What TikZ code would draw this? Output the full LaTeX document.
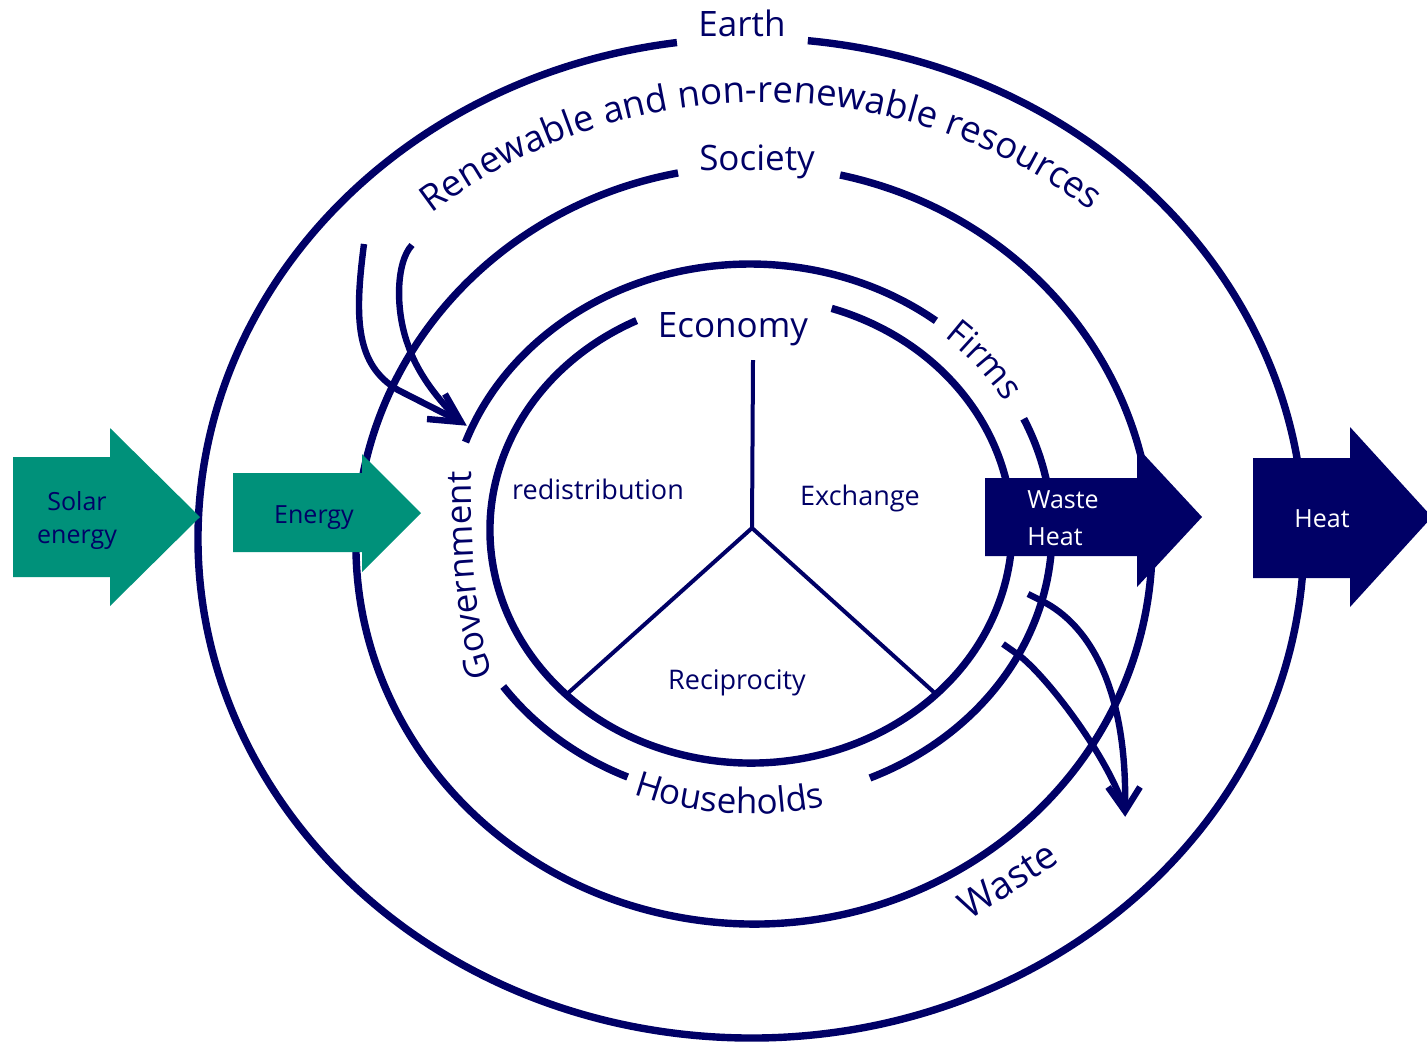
\documentclass[tikz,border=0pt]{standalone}
\usepackage{fontspec}
\setmainfont{Open Sans}
\usetikzlibrary{decorations.text}
\definecolor{navy}{RGB}{0,0,102}
\definecolor{solar}{RGB}{0,145,122}
\begin{document}
\begin{tikzpicture}[x=0.5pt,y=-0.5pt,
  ring/.style={draw=navy, line width=3.7pt},
  spoke/.style={draw=navy, line width=2pt},
  flow/.style={draw=navy, line width=3.2pt},
  bigtxt/.style={text=navy, font=\fontsize{17.5}{21}\selectfont, inner sep=0pt},
  smalltxt/.style={text=navy, font=\fontsize{13.5}{16}\selectfont, inner sep=0pt},
  arrtxt/.style={font=\fontsize{12.5}{15}\selectfont, inner sep=0pt},
  curvetxt/.style={decorate, decoration={text along path, text align=center, text={|\fontsize{17.5}{21}\selectfont\color{navy}|#1}}},
  arctxt/.style={decorate, decoration={text along path, text align=center, text={|\fontsize{18.3}{22}\selectfont\color{navy}|#1}}}
]
\useasboundingbox (0,0) rectangle (1427,1045);

% Earth
\draw[ring] ([shift={(751,538)}]-84.1:553 and 500) arc[start angle=-84.1, end angle=262.3, x radius=553, y radius=500];
% Society
\draw[ring] ([shift={(754,545)}]-77.5:398 and 379) arc[start angle=-77.5, end angle=259, x radius=398, y radius=379];
% Economy outer ring (three segments)
\draw[ring] ([shift={(750,532)}]-160.4:302 and 268) arc[start angle=-160.4, end angle=-52, x radius=302, y radius=268];
\draw[ring] ([shift={(750,532)}]-25:302 and 268) arc[start angle=-25, end angle=66.6, x radius=302, y radius=268];
\draw[ring] ([shift={(750,532)}]113.9:302 and 268) arc[start angle=113.9, end angle=144.8, x radius=302, y radius=268];
% Economy inner
\draw[ring] ([shift={(751,530)}]-72:261 and 233) arc[start angle=-72, end angle=244, x radius=261, y radius=233];

% spokes
\coordinate (hub) at (752,528);
\coordinate (spU) at (753,360);
\coordinate (spL) at (567,694);
\coordinate (spR) at (937,695);
\draw[spoke] (spU) -- (hub) -- (spL);
\draw[spoke] (hub) -- (spR);

% resource flows (top left)
\coordinate (tA) at (364,244);
\coordinate (tB) at (412,245);
\coordinate (tipTL) at (461,422);
\coordinate (hbA) at (427,419);
\coordinate (hbB) at (445,394);
\draw[flow] (tA) .. controls (354,320) and (356,365) .. (398,390) -- (tipTL);
\draw[flow] (tB) .. controls (396,262) and (395,310) .. (408,345) .. controls (418,375) and (440,402) .. (tipTL);
\draw[flow, line join=miter] (hbA) -- (tipTL) -- (hbB);

% waste flows (bottom right)
\coordinate (wA) at (1028,594);
\coordinate (wB) at (1003,644);
\coordinate (tipBR) at (1125,811);
\coordinate (wbA) at (1108,787);
\coordinate (wbB) at (1140,787);
\draw[flow] (wA) -- (1042,601) .. controls (1090,625) and (1128,690) .. (tipBR);
\draw[flow] (wB) -- (1020,656) .. controls (1050,680) and (1110,760) .. (tipBR);
\draw[flow, line join=miter] (wbA) -- (tipBR) -- (wbB);

% block arrows
\fill[solar] (13,457) -- (110,457) -- (110,428) -- (200,517) -- (110,606) -- (110,577) -- (13,577) -- cycle;
\fill[solar] (233,473) -- (362,473) -- (362,454) -- (421,513) -- (362,572) -- (362,552) -- (233,552) -- cycle;
\fill[navy] (985,478) -- (1137,478) -- (1137,447) -- (1202,517) -- (1137,587) -- (1137,556) -- (985,556) -- cycle;
\fill[navy] (1253,458) -- (1350,458) -- (1350,427) -- (1432,517) -- (1350,607) -- (1350,578) -- (1253,578) -- cycle;

% labels
\node[bigtxt, anchor=base] (earth) at (742,36) {Earth};
\node[bigtxt, anchor=base] (society) at (757,170) {Society};
\node[bigtxt, anchor=base] (economy) at (733,337) {Economy};
\node[smalltxt, anchor=base] (redis) at (598,499) {redistribution};
\node[smalltxt, anchor=base] (exch) at (860,505) {Exchange};
\node[smalltxt, anchor=base] (recip) at (737,689) {Reciprocity};
\node[arrtxt, text=navy, anchor=base] (solarA) at (77,510) {Solar};
\node[arrtxt, text=navy, anchor=base] (solarB) at (77,543) {energy};
\node[arrtxt, text=navy, anchor=base] (energy) at (314,523) {Energy};
\node[arrtxt, text=white, anchor=base west] (whA) at (1027,508) {Waste};
\node[arrtxt, text=white, anchor=base west] (whB) at (1027,545) {Heat};
\node[arrtxt, text=white, anchor=base] (heat) at (1322,527) {Heat};
\node[text=navy, font=\fontsize{19}{22}\selectfont, inner sep=0pt, rotate=33] (waste) at (1008,880) {Waste};

% curved labels
\path[arctxt={Renewable and non-renewable resources}] ([shift={(763,650)}]-132:548) arc[start angle=-132, end angle=-48.5, radius=548];
\path[curvetxt={Firms}] ([shift={(750,532)}]-58:294 and 260) arc[start angle=-58, end angle=-20, x radius=294, y radius=260];
\path[curvetxt={Households}] ([shift={(750,532)}]116:316 and 282) arc[start angle=116, end angle=72, x radius=316, y radius=282];
\path[curvetxt={Government}] (505,704) .. controls (478,652) and (470,580) .. (471,440);
\end{tikzpicture}
\end{document}
